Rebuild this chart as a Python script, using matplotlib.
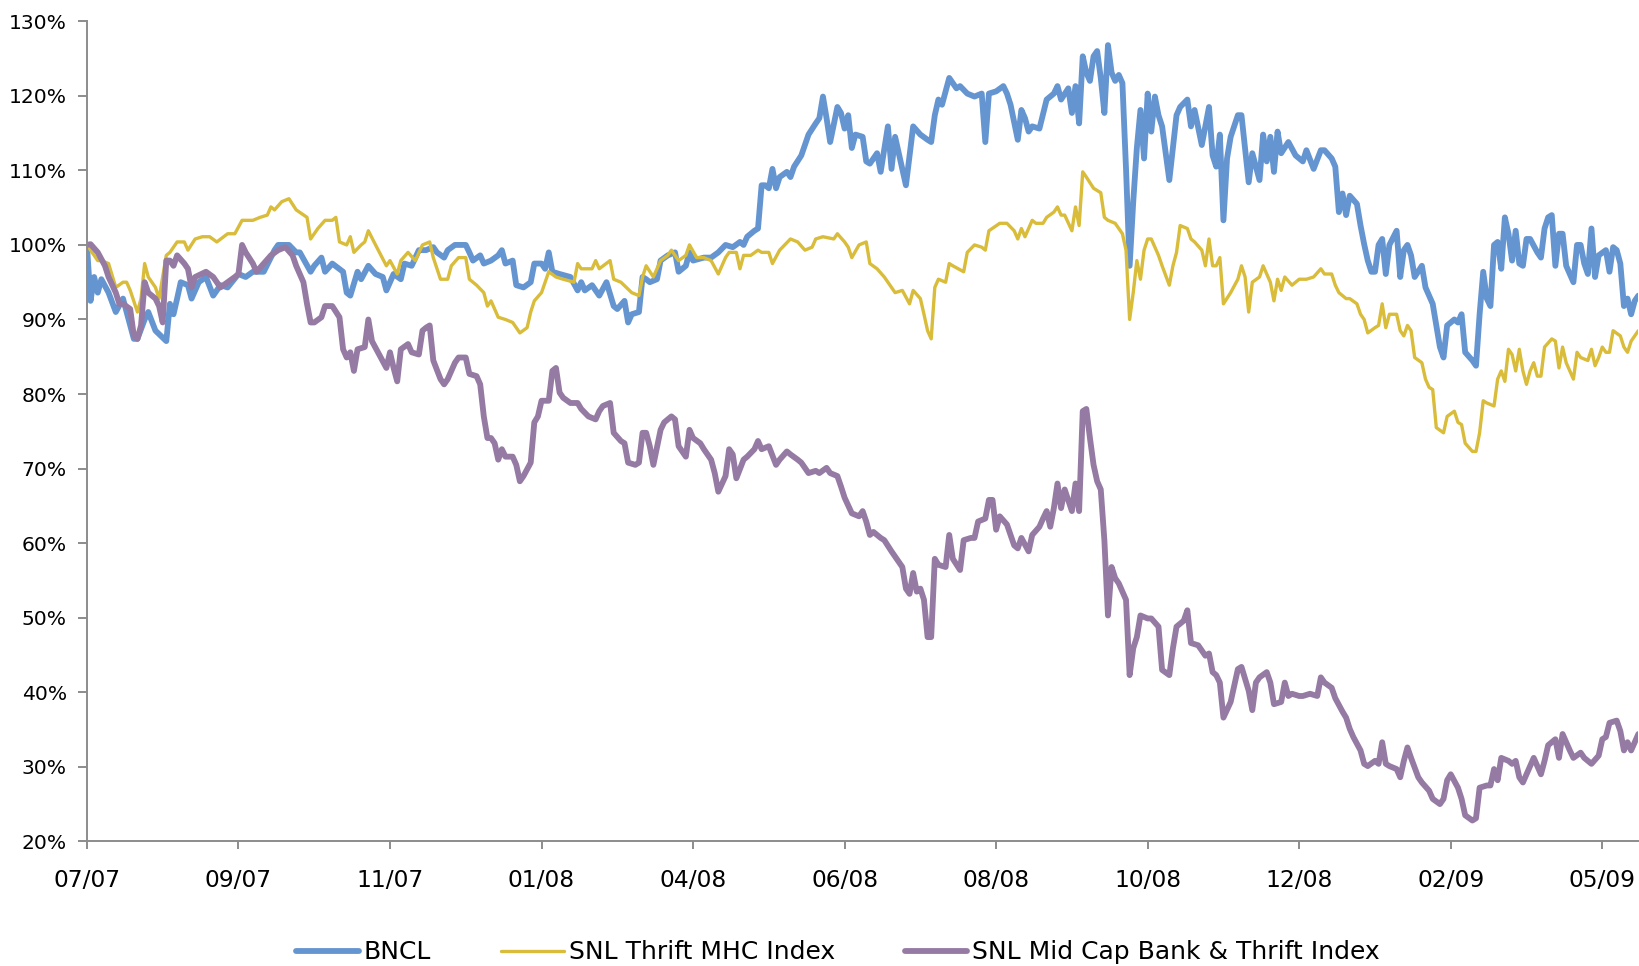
import matplotlib
matplotlib.use("Agg")
import matplotlib.pyplot as plt
import numpy as np
from matplotlib.ticker import FixedLocator, FuncFormatter

# relative performance, % of 07/07 level, by trading day
bncl = [
    (0, 100), (1, 92.5), (2, 95.7), (3, 93.6), (4, 95.4), (6, 93.6), (8, 91.0), (10, 92.8),
    (13, 87.4), (14, 87.4), (16, 90), (17, 91), (19, 88.5), (22, 87.1), (23, 92.1), (24, 90.7),
    (25, 92.8), (26, 95), (28, 94.6), (29, 92.8), (31, 95), (33, 95.7), (35, 93.2), (37, 94.6),
    (39, 94.3), (42, 96.1), (44, 95.7), (46, 96.4), (49, 96.4), (52, 99.3), (53, 100), (56, 100),
    (58, 99), (59, 99), (62, 96.4), (63, 97.2), (65, 98.3), (66, 96.4), (68, 97.5), (71, 96.4),
    (72, 93.6), (73, 93.2), (75, 96.4), (76, 95.4), (78, 97.2), (80, 96.1), (82, 95.7), (83, 93.9),
    (85, 96.1), (87, 95.4), (88, 97.5), (90, 97.2), (92, 99.3), (94, 99.3), (96, 99.7), (97, 99),
    (99, 98.3), (100, 99.3), (102, 100), (105, 100), (106, 99), (107, 97.9), (109, 98.6), (110, 97.5),
    (112, 97.9), (114, 98.6), (115, 99.3), (116, 97.5), (118, 97.9), (119, 94.6), (121, 94.3),
    (123, 95), (124, 97.5), (126, 97.5), (127, 96.8), (128, 99), (129, 96.4), (131, 96.1),
    (134, 95.7), (136, 93.9), (137, 95), (138, 93.9), (140, 94.6), (142, 93.2), (144, 95),
    (146, 91.8), (147, 91.4), (149, 92.5), (150, 89.6), (151, 90.7), (153, 91), (154, 95.7),
    (155, 95.4), (156, 95), (158, 95.4), (159, 97.9), (161, 98.6), (163, 99), (164, 96.4),
    (166, 97.2), (167, 99), (168, 97.9), (171, 98.3), (173, 98.3), (175, 99), (177, 100),
    (179, 99.7), (181, 100.4), (182, 100), (183, 101.1), (185, 101.9), (186, 102.2), (187, 108),
    (188, 108), (189, 107.6), (190, 110.2), (191, 107.6), (192, 109.1), (194, 109.8), (195, 109.1),
    (196, 110.5), (198, 112), (200, 114.8), (202, 116.3), (203, 117), (204, 119.9), (205, 117),
    (206, 113.8), (208, 118.5), (209, 117.7), (210, 115.6), (211, 117.4), (212, 113), (213, 114.8),
    (215, 114.5), (216, 111.2), (217, 110.9), (219, 112.3), (220, 109.8), (222, 115.9), (223, 110.2),
    (224, 114.5), (227, 108), (228, 112), (229, 115.9), (231, 114.8), (233, 114.1), (234, 113.8),
    (235, 117.4), (236, 119.5), (237, 118.8), (239, 122.4), (240, 121.7), (241, 121), (242, 121.3),
    (244, 120.3), (246, 119.9), (248, 120.3), (249, 113.8), (250, 120.3), (252, 120.6), (254, 121.3),
    (255, 120.3), (256, 118.8), (258, 114.1), (259, 118.1), (260, 117), (261, 115.2), (262, 115.9),
    (264, 115.6), (266, 119.5), (267, 119.9), (268, 120.3), (269, 121.3), (270, 119.5), (272, 121),
    (273, 117.7), (274, 121.3), (275, 116.3), (276, 125.3), (277, 123.1), (278, 122), (279, 125.3),
    (280, 126), (281, 122.4), (282, 117.7), (283, 126.8), (284, 123.1), (285, 122), (286, 122.8),
    (287, 121.7), (288, 110.2), (289, 97.2), (290, 105.8), (291, 113), (292, 118.1), (293, 111.6),
    (294, 120.3), (295, 115.2), (296, 119.9), (297, 117.4), (298, 115.9), (300, 108.7), (301, 113),
    (302, 117.4), (303, 118.5), (305, 119.5), (306, 115.9), (307, 118.1), (309, 113.4), (311, 118.5),
    (312, 112), (313, 110.5), (314, 114.8), (315, 103.3), (316, 111.6), (317, 114.5), (319, 117.4),
    (320, 117.4), (322, 108.4), (323, 112.3), (325, 108.7), (326, 114.8), (327, 111.2), (328, 114.5),
    (329, 109.8), (330, 115.2), (331, 112.3), (333, 113.8), (335, 112), (337, 111.2), (338, 112.7),
    (340, 110.2), (342, 112.7), (343, 112.7), (345, 111.6), (346, 110.5), (347, 104.4), (348, 106.9),
    (349, 104), (350, 106.6), (352, 105.5), (353, 102.6), (354, 100.1), (355, 97.9), (356, 96.4),
    (357, 96.4), (358, 100), (359, 100.8), (360, 96.1), (361, 100), (363, 101.9), (364, 95.7),
    (365, 99.3), (366, 100), (367, 98.6), (368, 95.7), (370, 97.2), (371, 94.3), (373, 92.1),
    (374, 89.2), (375, 86.3), (376, 84.9), (377, 89.2), (379, 90), (380, 89.6), (381, 90.7),
    (382, 85.6), (384, 84.5), (385, 83.8), (386, 90.7), (387, 96.4), (388, 92.8), (389, 91.8),
    (390, 100), (391, 100.4), (392, 96.8), (393, 103.7), (394, 101.5), (395, 97.9), (396, 101.9),
    (397, 97.5), (398, 97.2), (399, 100.8), (400, 100.8), (402, 99), (403, 98.3), (404, 102.2),
    (405, 103.7), (406, 104), (407, 97.2), (408, 101.5), (409, 101.5), (410, 97.2), (412, 95),
    (413, 100), (414, 100), (415, 97.5), (416, 96.1), (417, 102.2), (418, 95.7), (419, 98.6),
    (421, 99.3), (422, 96.4), (423, 99.7), (424, 99.3), (425, 97.5), (426, 91.8), (427, 92.8),
    (428, 90.7), (429, 92.5), (430, 93.2),
]

thrift_mhc = [
    (0, 100), (3, 97.9), (4, 97.9), (6, 97.5), (8, 94.3), (10, 95), (11, 95), (12, 93.9),
    (14, 91), (15, 92.8), (16, 97.5), (17, 95.7), (19, 94.3), (20, 92.8), (22, 98.6), (23, 99),
    (25, 100.4), (27, 100.4), (28, 99.3), (30, 100.8), (32, 101.1), (34, 101.1), (36, 100.4),
    (39, 101.5), (41, 101.5), (43, 103.3), (46, 103.3), (48, 103.7), (50, 104), (51, 105.1),
    (52, 104.7), (54, 105.8), (56, 106.2), (58, 104.7), (61, 103.7), (62, 100.8), (64, 102.2),
    (66, 103.3), (68, 103.3), (69, 103.7), (70, 100.4), (72, 100), (73, 101.1), (74, 99),
    (76, 100), (77, 100.4), (78, 101.9), (80, 100), (83, 97.2), (84, 97.9), (86, 96.1), (87, 97.9),
    (89, 99), (91, 97.9), (93, 100), (95, 100.4), (96, 98.3), (98, 95.4), (100, 95.4), (101, 97.2),
    (103, 98.3), (105, 98.3), (106, 95.4), (108, 94.6), (110, 93.6), (111, 91.8), (112, 92.5),
    (114, 90.3), (116, 90), (118, 89.6), (120, 88.2), (122, 88.9), (123, 91), (124, 92.5),
    (126, 93.6), (128, 96.4), (130, 95.7), (132, 95.4), (135, 95), (136, 97.5), (137, 96.8),
    (140, 96.8), (141, 97.9), (142, 96.8), (145, 97.9), (146, 95.4), (148, 95), (151, 93.6),
    (153, 93.2), (154, 95.7), (155, 97.2), (157, 95.7), (159, 97.9), (161, 98.6), (162, 99.3),
    (164, 97.9), (166, 98.6), (167, 100), (169, 98.3), (171, 98.3), (173, 97.9), (175, 96.1),
    (177, 98.3), (178, 99), (180, 99), (181, 96.8), (182, 98.6), (184, 98.6), (186, 99.3),
    (187, 99), (189, 99), (190, 97.5), (192, 99.3), (195, 100.8), (197, 100.4), (199, 99.3),
    (201, 99.7), (202, 100.8), (204, 101.1), (207, 100.8), (208, 101.5), (210, 100.4), (211, 99.7),
    (212, 98.3), (214, 100), (216, 100.4), (217, 97.5), (219, 96.8), (221, 95.7), (222, 95),
    (224, 93.6), (226, 93.9), (228, 92.1), (229, 93.9), (231, 92.8), (232, 90.7), (233, 88.5),
    (234, 87.4), (235, 94.3), (236, 95.4), (238, 95), (239, 97.5), (240, 97.2), (243, 96.4),
    (244, 99), (246, 100), (248, 99.7), (249, 99.3), (250, 101.9), (253, 102.9), (255, 102.9),
    (257, 101.9), (258, 100.8), (259, 102.2), (260, 101.1), (262, 103.3), (263, 102.9), (265, 102.9),
    (266, 103.7), (268, 104.4), (269, 105.1), (270, 104), (271, 104), (273, 101.9), (274, 105.1),
    (275, 102.6), (276, 109.8), (277, 109.1), (279, 107.6), (281, 107), (282, 103.7), (283, 103.3),
    (285, 102.9), (287, 101.5), (288, 99.3), (289, 90), (290, 93.6), (291, 97.9), (292, 95.4),
    (293, 99.3), (294, 100.8), (295, 100.8), (297, 98.6), (298, 97.2), (300, 94.6), (301, 97.2),
    (302, 99), (303, 102.6), (305, 102.2), (306, 100.8), (307, 100.4), (309, 99.3), (310, 97.2),
    (311, 100.8), (312, 97.2), (313, 97.2), (314, 98.3), (315, 92.1), (317, 93.6), (319, 95.4),
    (320, 97.2), (321, 95.7), (322, 91), (323, 95), (325, 95.7), (326, 97.2), (328, 95),
    (329, 92.5), (330, 95.4), (331, 93.9), (332, 95.7), (334, 94.6), (336, 95.4), (338, 95.4),
    (340, 95.7), (342, 96.8), (343, 96.1), (345, 96.1), (346, 94.6), (347, 93.6), (349, 92.8),
    (350, 92.8), (352, 92.1), (353, 90.7), (354, 90), (355, 88.2), (357, 88.9), (358, 89.2),
    (359, 92.1), (360, 88.9), (361, 90.7), (363, 90.7), (364, 88.5), (365, 87.8), (366, 89.2),
    (367, 88.5), (368, 84.9), (370, 84.2), (371, 82), (372, 80.9), (373, 80.6), (374, 75.5),
    (376, 74.8), (377, 77), (379, 77.7), (380, 76.2), (381, 75.9), (382, 73.4), (384, 72.3),
    (385, 72.3), (386, 74.8), (387, 79.1), (388, 78.8), (390, 78.4), (391, 82), (392, 83.1),
    (393, 81.7), (394, 86), (395, 85.3), (396, 83.1), (397, 86), (398, 83.1), (399, 81.3),
    (400, 83.1), (401, 84.2), (402, 82.4), (403, 82.4), (404, 86.3), (406, 87.4), (407, 87.1),
    (408, 83.5), (409, 86.3), (410, 84.2), (412, 82), (413, 85.6), (414, 84.9), (416, 84.5),
    (417, 86), (418, 83.8), (419, 84.9), (420, 86.3), (421, 85.6), (422, 85.6), (423, 88.5),
    (425, 87.8), (426, 86.3), (427, 85.6), (428, 87.1), (429, 87.8), (430, 88.5),
]

mid_cap = [
    (0, 100), (1, 100.1), (3, 99), (5, 97.2), (6, 95.7), (8, 93.6), (9, 92.1), (10, 92.1),
    (12, 91.4), (13, 87.8), (14, 87.4), (15, 89.2), (16, 95), (17, 93.6), (19, 92.8), (20, 91.8),
    (21, 89.6), (22, 97.9), (23, 97.9), (24, 97.2), (25, 98.6), (27, 97.5), (28, 96.8), (29, 94.3),
    (30, 95.7), (33, 96.4), (35, 95.7), (37, 94.3), (39, 95), (41, 95.7), (42, 96.1), (43, 100),
    (44, 99), (46, 97.5), (47, 96.4), (49, 97.5), (51, 98.6), (53, 99.3), (55, 99.7), (57, 98.6),
    (58, 97.2), (60, 95), (61, 92.1), (62, 89.6), (63, 89.6), (65, 90.3), (66, 91.8), (68, 91.8),
    (70, 90.3), (71, 86), (72, 84.9), (73, 85.6), (74, 83.1), (75, 86), (77, 86.3), (78, 90),
    (79, 87.1), (81, 85.3), (83, 83.5), (84, 85.6), (85, 83.5), (86, 81.7), (87, 86), (89, 86.7),
    (90, 85.6), (92, 85.3), (93, 88.5), (94, 88.9), (95, 89.2), (96, 84.5), (98, 82), (99, 81.3),
    (100, 82), (102, 84.2), (103, 84.9), (105, 84.9), (106, 82.7), (108, 82.4), (109, 81.3),
    (110, 77), (111, 74.1), (112, 74.1), (113, 73.4), (114, 71.2), (115, 72.6), (116, 71.6),
    (118, 71.6), (119, 70.5), (120, 68.3), (121, 69), (123, 70.8), (124, 76.2), (125, 77),
    (126, 79.1), (128, 79.1), (129, 83.1), (130, 83.5), (131, 80.2), (132, 79.5), (134, 78.8),
    (136, 78.8), (137, 78), (139, 77), (141, 76.6), (142, 77.7), (143, 78.4), (145, 78.8),
    (146, 74.8), (148, 73.7), (149, 73.4), (150, 70.8), (152, 70.5), (153, 70.8), (154, 74.8),
    (155, 74.8), (156, 73), (157, 70.5), (159, 75.2), (160, 76.2), (162, 77), (163, 76.6),
    (164, 73), (166, 71.6), (167, 75.2), (168, 74.1), (170, 73.4), (171, 72.6), (173, 71.2),
    (174, 69.4), (175, 66.9), (177, 69), (178, 72.6), (179, 71.9), (180, 68.7), (182, 71.2),
    (183, 71.6), (185, 72.6), (186, 73.7), (187, 72.6), (189, 73), (191, 70.5), (192, 71.2),
    (194, 72.3), (195, 71.9), (197, 71.2), (198, 70.8), (200, 69.4), (202, 69.7), (203, 69.4),
    (205, 70.1), (206, 69.4), (208, 69), (209, 67.6), (210, 66.1), (212, 64), (214, 63.6),
    (215, 64.3), (216, 62.9), (217, 61.1), (218, 61.5), (220, 60.7), (221, 60.4), (223, 58.9),
    (224, 58.2), (226, 56.8), (227, 53.9), (228, 53.2), (229, 56), (230, 53.5), (231, 53.9),
    (232, 52.4), (233, 47.4), (234, 47.4), (235, 57.9), (236, 57.1), (238, 56.8), (239, 61.1),
    (240, 57.9), (242, 56.4), (243, 60.4), (245, 60.7), (246, 60.7), (247, 62.9), (249, 63.3),
    (250, 65.8), (251, 65.8), (252, 61.8), (253, 63.6), (255, 62.5), (257, 59.7), (258, 59.3),
    (259, 60.7), (261, 58.9), (262, 61.1), (264, 62.2), (265, 63.3), (266, 64.3), (267, 62.2),
    (268, 64.7), (269, 68), (270, 64.7), (271, 67.2), (273, 64.3), (274, 68), (275, 64.3),
    (276, 77.7), (277, 78), (278, 74.1), (279, 70.5), (280, 68.3), (281, 67.2), (282, 60.4),
    (283, 50.3), (284, 56.8), (285, 55.3), (286, 54.6), (288, 52.4), (289, 42.3), (290, 45.9),
    (291, 47.4), (292, 50.3), (294, 49.9), (295, 49.9), (297, 48.8), (298, 43), (300, 42.3),
    (301, 45.9), (302, 48.8), (304, 49.6), (305, 51), (306, 46.6), (308, 46.3), (310, 44.9),
    (311, 45.2), (312, 42.7), (313, 42.3), (314, 41.3), (315, 36.6), (317, 38.7), (318, 40.9),
    (319, 43.1), (320, 43.4), (322, 40.2), (323, 37.6), (324, 41.3), (325, 42), (327, 42.7),
    (328, 41.3), (329, 38.4), (331, 38.7), (332, 41.3), (333, 39.5), (334, 39.8), (336, 39.5),
    (337, 39.5), (339, 39.8), (341, 39.5), (342, 42), (343, 41.3), (345, 40.6), (346, 39.2),
    (348, 37.4), (349, 36.6), (350, 35.1), (351, 34), (353, 32.2), (354, 30.4), (355, 30.1),
    (357, 30.8), (358, 30.4), (359, 33.3), (360, 30.4), (361, 30.1), (363, 29.7), (364, 28.6),
    (365, 30.8), (366, 32.6), (367, 31.2), (369, 28.6), (370, 27.9), (372, 26.8), (373, 25.7),
    (375, 25), (376, 25.7), (377, 28.2), (378, 29), (380, 27.2), (381, 25.7), (382, 23.5),
    (384, 22.8), (385, 23.1), (386, 27.2), (388, 27.5), (389, 27.5), (390, 29.7), (391, 28.2),
    (392, 31.2), (394, 30.8), (395, 30.4), (396, 30.8), (397, 28.6), (398, 27.9), (400, 30.1),
    (401, 31.2), (403, 29), (404, 30.8), (405, 32.9), (407, 33.7), (408, 31.2), (409, 34.4),
    (411, 32.2), (412, 31.2), (414, 31.9), (415, 31.2), (417, 30.4), (419, 31.5), (420, 33.7),
    (421, 34), (422, 35.9), (424, 36.2), (425, 34.8), (426, 32.2), (427, 33.3), (428, 32.2),
    (430, 34.4),
]

date_labels = ["07/07", "09/07", "11/07", "01/08", "04/08", "06/08",
               "08/08", "10/08", "12/08", "02/09", "05/09"]
label_every = 42  # trading days between date labels

series = [
    ("BNCL", bncl, "#6595D0", 4.2),
    ("SNL Thrift MHC Index", thrift_mhc, "#D8BC3A", 2.4),
    ("SNL Mid Cap Bank & Thrift Index", mid_cap, "#957AA3", 4.2),
]

plt.rcParams["font.family"] = ["DejaVu Sans"]
axis_grey = "#8C8C8C"

fig = plt.figure(figsize=(16.4, 9.66), dpi=100)
ax = fig.add_axes([0.053, 0.129, 0.946, 0.849])

for name, pts, color, lw in series:
    d = np.array(pts, dtype=float)
    ax.plot(d[:, 0], d[:, 1], color=color, lw=lw, label=name,
            solid_joinstyle="round", solid_capstyle="round")

ax.set_xlim(0, 430)
ax.set_ylim(20, 130)

ax.xaxis.set_major_locator(FixedLocator(np.arange(len(date_labels)) * label_every))
ax.set_xticklabels(date_labels)
ax.yaxis.set_major_locator(FixedLocator(np.arange(20, 131, 10)))
ax.yaxis.set_major_formatter(FuncFormatter(lambda v, p: f"{v:.0f}%"))

for side in ["top", "right"]:
    ax.spines[side].set_visible(False)
for side in ["left", "bottom"]:
    ax.spines[side].set_color(axis_grey)
    ax.spines[side].set_linewidth(1.4)

ax.tick_params(axis="x", direction="out", length=6, width=1.4, color=axis_grey,
               labelsize=16.8, pad=14)
ax.tick_params(axis="y", direction="out", length=6.5, width=1.4, color=axis_grey,
               labelsize=14.6, pad=8)

fig.legend(loc="center", bbox_to_anchor=(0.511, 0.014), ncol=3, frameon=False,
           fontsize=18, handlelength=2.5, handletextpad=0.2, columnspacing=2.8)

fig.savefig("out.png", dpi=100)
